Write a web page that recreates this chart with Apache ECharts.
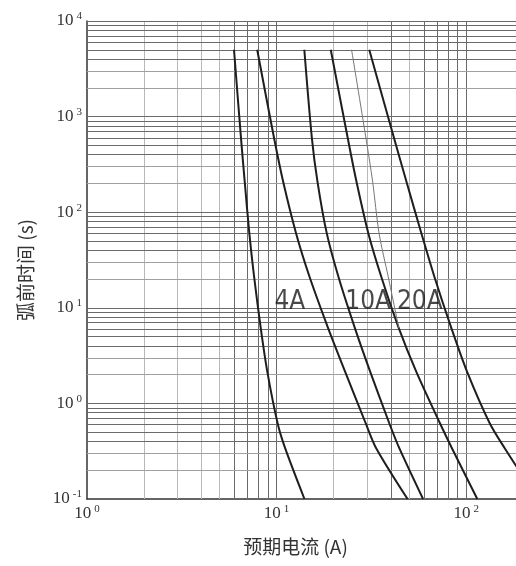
<!DOCTYPE html>
<html><head><meta charset="utf-8">
<script src="https://cdn.jsdelivr.net/npm/echarts@6/dist/echarts.min.js"></script>
<style>html,body{margin:0;padding:0;background:#fff}#c{width:516px;height:566px}</style>
</head><body><div id="c"></div>
<script>
// ---- data (current A, pre-arcing time s) ----
const curve1 = [[5.96,5000],[6.49,593],[6.79,208],[7.18,60],[7.61,21],[8.25,6.1],[8.93,2.15],[10.12,0.62],[11.09,0.34],[14.02,0.1]];
const curve2 = [[7.90,5000],[9.70,593],[10.83,208],[12.67,60],[14.93,21],[18.71,6.1],[22.97,2.15],[29.49,0.62],[33.5,0.34],[49.05,0.1]];
const curve3 = [[14.0,5000],[15.35,593],[16.43,208],[18.39,60],[21.2,21],[25.9,6.1],[31.14,2.15],[39.28,0.62],[44.36,0.34],[59.2,0.1]];
const curve4 = [[19.3,5000],[23.73,593],[26.38,208],[30.47,60],[35.68,21],[44.14,6.1],[54.5,2.15],[72.67,0.62],[84.07,0.34],[114.4,0.1]];
const curveThin = [[24.85,5000],[29.6,593],[32.1,208],[34.7,60],[38.8,21],[44.14,6.1]];
const curve6 = [[30.8,5000],[41.64,593],[48.4,208],[58.04,60],[67.99,21],[83.56,6.1],[100.97,2.15],[133.0,0.62],[159.6,0.34],[238.2,0.1]];

const annotationText = ['4A', '10A', '20A'];
const annotationX = [11.75, 30.4, 56.9];
const annotationY = [11.4, 11.4, 11.4];

const xAxisName = '预期电流 (A)';
const yAxisName = '弧前时间 (s)';
const xMin = 1, xMax = 183, yMin = 0.1, yMax = 10000;

// ---- helpers ----
function gridValues(min, max) {
  const out = [];
  for (let d = Math.floor(Math.log10(min)); d <= Math.ceil(Math.log10(max)); d++) {
    for (let m = 1; m <= 9; m++) {
      const v = +(m * Math.pow(10, d)).toPrecision(6);
      if (v > min * 1.0001 && v <= max * 1.0001) out.push({ v, m, d });
    }
  }
  return out;
}
function supLabel(value) {
  const e = Math.log10(value);
  const r = Math.round(e);
  if (Math.abs(e - r) > 1e-6) return '';
  return '{b|10}{s|' + r + '}';
}
const rich = {
  b: { fontFamily: 'Liberation Serif', fontSize: 17, color: '#333', lineHeight: 20, verticalAlign: 'middle' },
  s: { fontFamily: 'Liberation Serif', fontSize: 11, color: '#333', lineHeight: 9, verticalAlign: 'top', padding: [0, 0, 0, 3] }
};

const LIGHT = '#b8b8b8', DARK = '#6a6a6a';
const vLines = gridValues(xMin, xMax).map(g => ({
  xAxis: g.v,
  lineStyle: { color: ((g.d === 0 && g.m >= 2 && g.m <= 5) || (g.d === 1 && (g.m === 2 || g.m === 3 || g.m === 5))) ? LIGHT : DARK }
}));
const hLines = gridValues(yMin, yMax).map(g => ({
  yAxis: g.v,
  lineStyle: { color: (g.m === 2 || g.m === 3) ? '#a0a0a0' : DARK }
}));

function curveSeries(data, width, color) {
  return {
    type: 'line', data, showSymbol: false, symbol: 'none', smooth: 0.3, z: 10,
    lineStyle: { width, color }, silent: true
  };
}

const chart = echarts.init(document.getElementById('c'), null, { renderer: 'canvas' });
chart.setOption({
  animation: false,
  backgroundColor: '#fff',
  grid: { left: 87, right: 0, top: 21, bottom: 67, containLabel: false },
  xAxis: {
    type: 'log', logBase: 10, min: xMin, max: xMax,
    name: xAxisName, nameLocation: 'middle', nameGap: 38,
    nameTextStyle: { fontFamily: 'Noto Sans CJK SC', fontSize: 19, color: '#333', padding: [0, 12, 0, 0] },
    axisLine: { show: true, lineStyle: { color: '#333', width: 1.5 } },
    axisTick: { show: false },
    splitLine: { show: false },
    minorTick: { show: false }, minorSplitLine: { show: false },
    axisLabel: { margin: 5, formatter: supLabel, rich, showMaxLabel: false }
  },
  yAxis: {
    type: 'log', logBase: 10, min: yMin, max: yMax,
    name: yAxisName, nameLocation: 'middle', nameGap: 52, nameRotate: 90,
    nameTextStyle: { fontFamily: 'Noto Sans CJK SC', fontSize: 19, color: '#333', padding: [0, 20, 0, 0] },
    axisLine: { show: true, lineStyle: { color: '#333', width: 1.5 } },
    axisTick: { show: false },
    splitLine: { show: false },
    axisLabel: { margin: 5, formatter: supLabel, rich }
  },
  series: [
    {
      type: 'line', data: [], z: 1, silent: true,
      markLine: {
        silent: true, symbol: 'none', z: 1, animation: false,
        label: { show: false },
        lineStyle: { type: 'solid', width: 1 },
        emphasis: { disabled: true },
        data: vLines.concat(hLines)
      }
    },
    curveSeries(curve1, 2, '#1e1e1e'),
    curveSeries(curve2, 2, '#1e1e1e'),
    curveSeries(curve3, 2, '#1e1e1e'),
    curveSeries(curve4, 2, '#1e1e1e'),
    curveSeries(curveThin, 1, '#777'),
    curveSeries(curve6, 2, '#1e1e1e'),
    {
      type: 'scatter', symbolSize: 0, z: 12, silent: true,
      data: annotationText.map((t, i) => ({ name: t, value: [annotationX[i], annotationY[i]] })),
      label: {
        show: true, position: 'inside', formatter: p => p.name,
        fontFamily: "'Liberation Sans Narrow', 'DejaVu Sans Condensed', sans-serif",
        fontSize: 26, color: '#1a1a1a'
      }
    }
  ]
});
</script></body></html>
